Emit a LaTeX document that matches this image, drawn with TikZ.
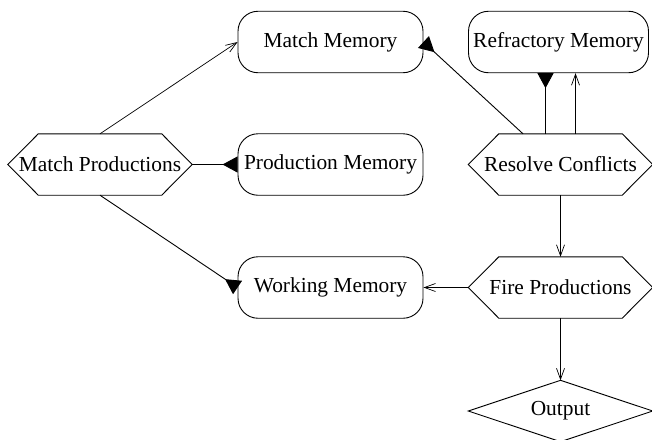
\documentclass[tikz,border=0pt]{standalone}
\usepackage{fontspec}
\setmainfont{Liberation Serif}
\usetikzlibrary{arrows.meta}
\begin{document}
\begin{tikzpicture}[x=1pt,y=-1pt,
  font=\fontsize{21.4}{25}\selectfont,
  every node/.style={inner sep=0pt},
  memory/.style={draw, line width=0.9pt, rounded corners=20pt,
    minimum width=185pt, minimum height=61.5pt},
  process/.style={minimum width=184pt, minimum height=61pt,
    append after command={\pgfextra{\let\hexnode\tikzlastnode
      \draw[line width=0.9pt] (\hexnode.west)
        -- ([xshift=30.5pt]\hexnode.north west) -- ([xshift=-30.5pt]\hexnode.north east)
        -- (\hexnode.east)
        -- ([xshift=-30.5pt]\hexnode.south east) -- ([xshift=30.5pt]\hexnode.south west)
        -- cycle;}}},
  decision/.style={minimum width=184pt, minimum height=61pt,
    append after command={\pgfextra{\let\dianode\tikzlastnode
      \draw[line width=0.9pt] (\dianode.north) -- (\dianode.east)
        -- (\dianode.south) -- (\dianode.west) -- cycle;}}},
  open/.style={-{Straight Barb[length=11pt,width=8pt]}, line width=0.7pt},
  filled/.style={-{Triangle[reversed,length=15pt,width=16pt]}, line width=0.9pt}
]
\useasboundingbox (0,0) rectangle (652,439);

% stores
\node[memory] (mm) at (330.5,42) {Match Memory};
\node[memory, minimum width=180pt] (rm) at (558.5,42) {Refractory Memory};
\node[memory] (pm) at (330.5,164.5) {Production Memory};
\node[memory] (wm) at (330.5,287.5) {Working Memory};

% processes
\node[process] (mp) at (100,164.5) {Match Productions};
\node[process] (rc) at (560.5,164.5) {Resolve Conflicts};
\node[process] (fp) at (560.5,287.5) {Fire Productions};
\node[decision] (out) at (560.5,411) {Output};

% connectors
\draw[open] (mp.north) -- (mm.west);
\draw[filled] (mp.east) -- (pm.west);
\draw[filled] (mp.south) -- (wm.west);
\draw[filled] ([xshift=-37.5pt]rc.north) -- (mm.east);
\draw[filled] ([xshift=-15pt]rc.north) -- ([xshift=-15pt]rc.north |- rm.south);
\draw[open] ([xshift=15pt]rc.north) -- ([xshift=15pt]rc.north |- rm.south);
\draw[open] (rc.south) -- (fp.north);
\draw[open] (fp.west) -- (wm.east);
\draw[open] (fp.south) -- (out.north);
\end{tikzpicture}
\end{document}
